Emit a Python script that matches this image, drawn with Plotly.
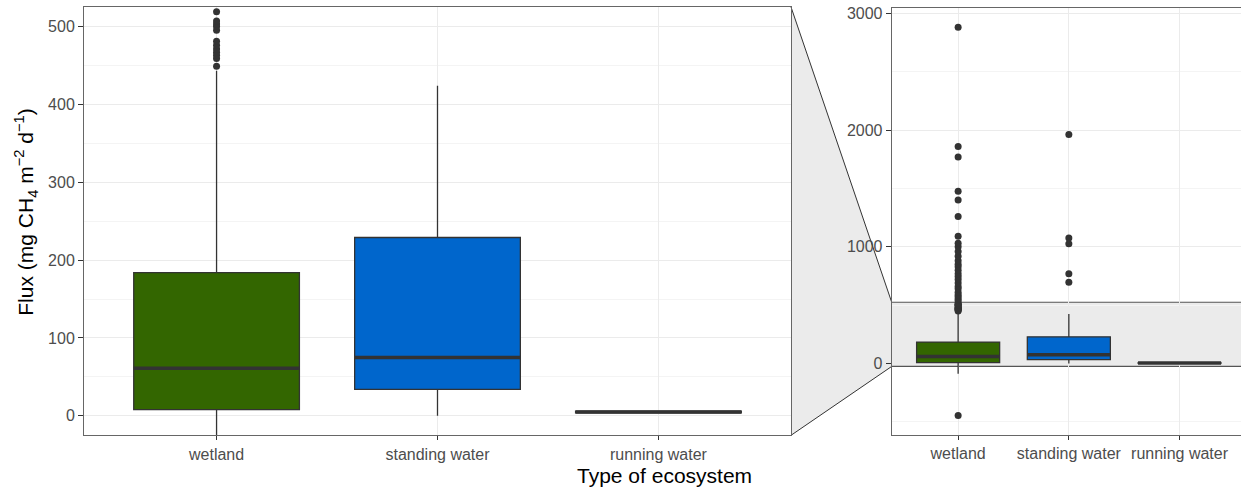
import plotly.graph_objects as go

# ---- data -------------------------------------------------------------
categories = ["wetland", "standing water", "running water"]
box_fill = ["#336600", "#0066CC", "#3399FF"]

q1 = [8, 34, 4]
median = [61, 75, 5]
q3 = [184, 229, 6]
lower_fence = [-88, 0, 3]
upper_fence = [443, 424, 7]

wetland_outliers = [449, 459, 463, 467, 471, 476, 481, 495, 500, 503, 507, 519,
                    540, 555, 575, 590, 610, 640, 660, 690, 720, 745, 770, 800,
                    830, 850, 880, 920, 960, 1000, 1030, 1090, 1260, 1400, 1475,
                    1770, 1860, 2880, -445]
standing_outliers = [697, 768, 1025, 1075, 1962]
running_outliers = []
outliers = [wetland_outliers, standing_outliers, running_outliers]

# zoomed window shown in the main panel, and full extent in the side panel
zoom_range = [-25, 525]
full_range = [-611, 3046]
main_ticks = [0, 100, 200, 300, 400, 500]
full_ticks = [0, 1000, 2000, 3000]

# ---- layout geometry --------------------------------------------------
W, H = 1241, 488
main_x_dom = [84 / W, 791 / W]
main_y_dom = [1 - 435 / H, 1 - 4 / H]
side_x_dom = [891.7 / W, 1.0]
side_y_dom = [1 - 434.5 / H, 1 - 5 / H]

BOX_W = 0.75
INK = "#333333"
GRID = "#EBEBEB"
MINOR = "#F4F4F4"
FONT = "Liberation Sans, Arial, sans-serif"
positions = list(range(len(categories)))

fig = go.Figure()

for xa, ya in (("x", "y"), ("x2", "y2")):
    for i, pos in enumerate(positions):
        fig.add_trace(go.Box(
            x=[pos], q1=[q1[i]], median=[median[i]], q3=[q3[i]],
            lowerfence=[lower_fence[i]], upperfence=[upper_fence[i]],
            width=BOX_W, whiskerwidth=0, boxpoints=False,
            fillcolor=box_fill[i], line=dict(color=INK, width=1.3),
            xaxis=xa, yaxis=ya, hoverinfo="skip"))
    # heavier median bars
    mx, my = [], []
    for i, pos in enumerate(positions):
        mx += [pos - BOX_W / 2, pos + BOX_W / 2, None]
        my += [median[i], median[i], None]
    fig.add_trace(go.Scatter(x=mx, y=my, mode="lines",
                             line=dict(color=INK, width=3.5),
                             xaxis=xa, yaxis=ya, hoverinfo="skip"))
    # outlying points
    ox, oy = [], []
    for i, pos in enumerate(positions):
        ox += [pos] * len(outliers[i])
        oy += outliers[i]
    fig.add_trace(go.Scatter(x=ox, y=oy, mode="markers",
                             marker=dict(color=INK, size=7),
                             xaxis=xa, yaxis=ya, hoverinfo="skip"))

common_x = dict(tickvals=positions, ticktext=categories, ticks="outside",
                ticklen=4, tickcolor=INK, tickwidth=1,
                tickfont=dict(size=16, color="#4D4D4D", family=FONT),
                showgrid=True, gridcolor=GRID, gridwidth=1, zeroline=False,
                showline=True, linecolor="#666666", linewidth=1)
common_y = dict(ticks="outside", ticklen=5, tickcolor=INK, tickwidth=1,
                tickfont=dict(size=16, color="#4D4D4D", family=FONT),
                showgrid=True, gridcolor=GRID, gridwidth=1, zeroline=False,
                showline=True, linecolor="#666666", linewidth=1)

fig.update_layout(
    width=W, height=H, margin=dict(l=0, r=0, t=0, b=0),
    paper_bgcolor="white", plot_bgcolor="white", showlegend=False,
    font=dict(family=FONT),
    xaxis=dict(domain=main_x_dom, range=[-0.6, 2.6], anchor="y",
               mirror=True, **common_x),
    yaxis=dict(domain=main_y_dom, range=zoom_range, anchor="x",
               tickvals=main_ticks, mirror=True,
               minor=dict(showgrid=True, gridcolor=MINOR, dtick=50, tick0=0),
               **common_y),
    xaxis2=dict(domain=side_x_dom, range=[-0.6, 2.555], anchor="y2",
                mirror=True, **common_x),
    yaxis2=dict(domain=side_y_dom, range=full_range, anchor="x2",
                tickvals=full_ticks, mirror=False,
                minor=dict(showgrid=True, gridcolor=MINOR, dtick=500, tick0=0),
                **common_y),
)

# ---- zoom indicator ---------------------------------------------------
def side_paper_y(v):
    r0, r1 = full_range
    return side_y_dom[0] + (v - r0) / (r1 - r0) * (side_y_dom[1] - side_y_dom[0])

xl, xr = main_x_dom[1], side_x_dom[0]
yt, yb = main_y_dom[1], main_y_dom[0]
bt, bb = side_paper_y(zoom_range[1]), side_paper_y(zoom_range[0])

fig.add_shape(type="path", xref="paper", yref="paper",
              path=f"M {xl},{yt} L {xr},{bt} L {xr},{bb} L {xl},{yb} Z",
              fillcolor="#EBEBEB", line=dict(width=0), layer="below")
fig.add_shape(type="line", xref="paper", yref="paper", x0=xl, y0=yt, x1=xr, y1=bt,
              line=dict(color=INK, width=1), layer="below")
fig.add_shape(type="line", xref="paper", yref="paper", x0=xl, y0=yb, x1=xr, y1=bb,
              line=dict(color=INK, width=1), layer="below")
fig.add_shape(type="rect", xref="x2 domain", yref="y2", x0=0, x1=1,
              y0=zoom_range[0], y1=zoom_range[1],
              fillcolor="#EBEBEB", line=dict(width=0), layer="below")
for v in zoom_range:
    fig.add_shape(type="line", xref="x2 domain", yref="y2", x0=0, x1=1, y0=v, y1=v,
                  line=dict(color="#555555", width=1.2), layer="below")

# ---- axis titles ------------------------------------------------------
fig.add_annotation(text="Type of ecosystem", xref="paper", yref="paper",
                   x=664 / W, y=1 - 475 / H, showarrow=False,
                   xanchor="center", yanchor="middle",
                   font=dict(size=21, color="black", family=FONT))
fig.add_annotation(text="Flux (mg CH<sub>4</sub> m<sup>\u22122</sup> d<sup>\u22121</sup>)",
                   xref="paper", yref="paper", x=26 / W, y=1 - 211 / H,
                   textangle=-90, showarrow=False,
                   xanchor="center", yanchor="middle",
                   font=dict(size=21, color="black", family=FONT))

fig.write_html("out.html")
